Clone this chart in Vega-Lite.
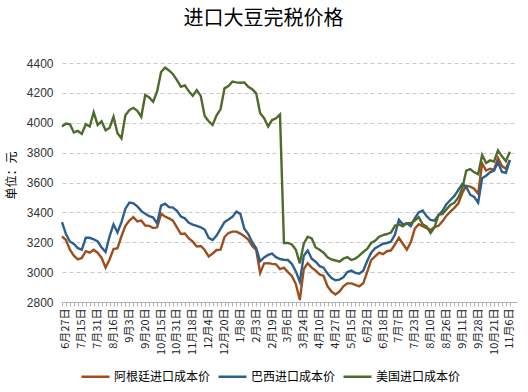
{
 "$schema": "https://vega.github.io/schema/vega-lite/v6.json",
 "width": 455, "height": 239,
 "autosize": {"type": "none"},
 "padding": {"left": 62, "top": 63, "right": 11, "bottom": 90},
 "background": "white",
 "config": {"view": {"stroke": null}, "font": "Noto Sans CJK SC"},
 "title": {"text": "进口大豆完税价格", "fontSize": 20, "font": "Noto Sans CJK SC", "fontWeight": "normal", "color": "#000000", "anchor": "middle", "offset": 28, "dx": -26},
 "data": {"values": [
  {"d":"2013年6月25日","阿根廷":3240,"巴西":3335,"美国":3975},
  {"d":"2013年6月27日","阿根廷":3215,"巴西":3255,"美国":3995},
  {"d":"2013年7月2日","阿根廷":3150,"巴西":3205,"美国":3990},
  {"d":"2013年7月5日","阿根廷":3110,"巴西":3188,"美国":3935},
  {"d":"2013年7月10日","阿根廷":3085,"巴西":3160,"美国":3945},
  {"d":"2013年7月15日","阿根廷":3095,"巴西":3150,"美国":3925},
  {"d":"2013年7月18日","阿根廷":3140,"巴西":3230,"美国":3990},
  {"d":"2013年7月23日","阿根廷":3130,"巴西":3230,"美国":3975},
  {"d":"2013年7月26日","阿根廷":3150,"巴西":3220,"美国":4070},
  {"d":"2013年7月31日","阿根廷":3130,"巴西":3205,"美国":3985},
  {"d":"2013年8月5日","阿根廷":3095,"巴西":3165,"美国":4010},
  {"d":"2013年8月8日","阿根廷":3030,"巴西":3135,"美国":3950},
  {"d":"2013年8月13日","阿根廷":3085,"巴西":3240,"美国":3965},
  {"d":"2013年8月16日","阿根廷":3155,"巴西":3320,"美国":4040},
  {"d":"2013年8月21日","阿根廷":3160,"巴西":3265,"美国":3930},
  {"d":"2013年8月26日","阿根廷":3240,"巴西":3335,"美国":3896},
  {"d":"2013年8月29日","阿根廷":3310,"巴西":3425,"美国":4050},
  {"d":"2013年9月3日","阿根廷":3345,"巴西":3466,"美国":4085},
  {"d":"2013年9月6日","阿根廷":3368,"巴西":3460,"美国":4100},
  {"d":"2013年9月11日","阿根廷":3340,"巴西":3440,"美国":4080},
  {"d":"2013年9月16日","阿根廷":3345,"巴西":3410,"美国":4040},
  {"d":"2013年9月20日","阿根廷":3312,"巴西":3390,"美国":4186},
  {"d":"2013年9月25日","阿根廷":3310,"巴西":3375,"美国":4170},
  {"d":"2013年9月30日","阿根廷":3295,"巴西":3365,"美国":4140},
  {"d":"2013年10月10日","阿根廷":3300,"巴西":3325,"美国":4210},
  {"d":"2013年10月15日","阿根廷":3390,"巴西":3445,"美国":4340},
  {"d":"2013年10月18日","阿根廷":3372,"巴西":3458,"美国":4369},
  {"d":"2013年10月23日","阿根廷":3360,"巴西":3435,"美国":4350},
  {"d":"2013年10月28日","阿根廷":3345,"巴西":3432,"美国":4325},
  {"d":"2013年10月31日","阿根廷":3300,"巴西":3410,"美国":4285},
  {"d":"2013年11月5日","阿根廷":3255,"巴西":3372,"美国":4241},
  {"d":"2013年11月8日","阿根廷":3258,"巴西":3360,"美国":4250},
  {"d":"2013年11月13日","阿根廷":3225,"巴西":3330,"美国":4210},
  {"d":"2013年11月18日","阿根廷":3204,"巴西":3318,"美国":4180},
  {"d":"2013年11月21日","阿根廷":3172,"巴西":3310,"美国":4219},
  {"d":"2013年11月26日","阿根廷":3175,"巴西":3300,"美国":4180},
  {"d":"2013年11月29日","阿根廷":3148,"巴西":3285,"美国":4045},
  {"d":"2013年12月4日","阿根廷":3105,"巴西":3230,"美国":4010},
  {"d":"2013年12月9日","阿根廷":3125,"巴西":3215,"美国":3985},
  {"d":"2013年12月12日","阿根廷":3148,"巴西":3245,"美国":4050},
  {"d":"2013年12月17日","阿根廷":3150,"巴西":3290,"美国":4090},
  {"d":"2013年12月20日","阿根廷":3235,"巴西":3335,"美国":4230},
  {"d":"2013年12月25日","阿根廷":3262,"巴西":3352,"美国":4245},
  {"d":"2013年12月30日","阿根廷":3271,"巴西":3370,"美国":4275},
  {"d":"2014年1月3日","阿根廷":3271,"巴西":3405,"美国":4270},
  {"d":"2014年1月8日","阿根廷":3258,"巴西":3390,"美国":4268},
  {"d":"2014年1月14日","阿根廷":3240,"巴西":3290,"美国":4270},
  {"d":"2014年1月20日","阿根廷":3218,"巴西":3255,"美国":4241},
  {"d":"2014年1月27日","阿根廷":3175,"巴西":3200,"美国":4225},
  {"d":"2014年2月3日","阿根廷":3148,"巴西":3160,"美国":4197},
  {"d":"2014年2月7日","阿根廷":2995,"巴西":3072,"美国":4063},
  {"d":"2014年2月11日","阿根廷":3059,"巴西":3098,"美国":4030},
  {"d":"2014年2月14日","阿根廷":3060,"巴西":3115,"美国":3975},
  {"d":"2014年2月19日","阿根廷":3055,"巴西":3124,"美国":4018},
  {"d":"2014年2月24日","阿根廷":3052,"巴西":3100,"美国":4030},
  {"d":"2014年2月27日","阿根廷":3020,"巴西":3088,"美国":4055},
  {"d":"2014年3月3日","阿根廷":3030,"巴西":3083,"美国":3195},
  {"d":"2014年3月6日","阿根廷":3000,"巴西":3081,"美国":3195},
  {"d":"2014年3月11日","阿根廷":2975,"巴西":3055,"美国":3185},
  {"d":"2014年3月14日","阿根廷":2920,"巴西":3005,"美国":3150},
  {"d":"2014年3月19日","阿根廷":2813,"巴西":2935,"美国":3059},
  {"d":"2014年3月24日","阿根廷":3020,"巴西":3110,"美国":3190},
  {"d":"2014年3月27日","阿根廷":3060,"巴西":3145,"美国":3237},
  {"d":"2014年4月1日","阿根廷":3030,"巴西":3090,"美国":3225},
  {"d":"2014年4月4日","阿根廷":3010,"巴西":3070,"美国":3165},
  {"d":"2014年4月10日","阿根廷":2985,"巴西":3040,"美国":3150},
  {"d":"2014年4月15日","阿根廷":2975,"巴西":3030,"美国":3130},
  {"d":"2014年4月18日","阿根廷":2905,"巴西":2990,"美国":3100},
  {"d":"2014年4月23日","阿根廷":2870,"巴西":2960,"美国":3085},
  {"d":"2014年4月27日","阿根廷":2850,"巴西":2945,"美国":3078},
  {"d":"2014年5月2日","阿根廷":2870,"巴西":2950,"美国":3070},
  {"d":"2014年5月7日","阿根廷":2905,"巴西":2965,"美国":3090},
  {"d":"2014年5月12日","阿根廷":2925,"巴西":3000,"美国":3100},
  {"d":"2014年5月15日","阿根廷":2925,"巴西":3010,"美国":3081},
  {"d":"2014年5月20日","阿根廷":2915,"巴西":2995,"美国":3090},
  {"d":"2014年5月23日","阿根廷":2905,"巴西":2990,"美国":3110},
  {"d":"2014年5月28日","阿根廷":2925,"巴西":3010,"美国":3135},
  {"d":"2014年6月2日","阿根廷":3000,"巴西":3075,"美国":3155},
  {"d":"2014年6月6日","阿根廷":3080,"巴西":3130,"美国":3195},
  {"d":"2014年6月11日","阿根廷":3105,"巴西":3160,"美国":3210},
  {"d":"2014年6月13日","阿根廷":3130,"巴西":3175,"美国":3237},
  {"d":"2014年6月18日","阿根廷":3120,"巴西":3190,"美国":3248},
  {"d":"2014年6月23日","阿根廷":3140,"巴西":3195,"美国":3255},
  {"d":"2014年6月27日","阿根廷":3145,"巴西":3205,"美国":3265},
  {"d":"2014年7月2日","阿根廷":3185,"巴西":3250,"美国":3310},
  {"d":"2014年7月7日","阿根廷":3230,"巴西":3350,"美国":3320},
  {"d":"2014年7月10日","阿根廷":3190,"巴西":3320,"美国":3307},
  {"d":"2014年7月15日","阿根廷":3150,"巴西":3327,"美国":3327},
  {"d":"2014年7月18日","阿根廷":3200,"巴西":3308,"美国":3327},
  {"d":"2014年7月23日","阿根廷":3290,"巴西":3360,"美国":3345},
  {"d":"2014年7月28日","阿根廷":3320,"巴西":3400,"美国":3368},
  {"d":"2014年7月31日","阿根廷":3308,"巴西":3412,"美国":3320},
  {"d":"2014年8月5日","阿根廷":3295,"巴西":3375,"美国":3305},
  {"d":"2014年8月10日","阿根廷":3282,"巴西":3349,"美国":3262},
  {"d":"2014年8月14日","阿根廷":3302,"巴西":3345,"美国":3300},
  {"d":"2014年8月19日","阿根廷":3310,"巴西":3380,"美国":3385},
  {"d":"2014年8月22日","阿根廷":3340,"巴西":3410,"美国":3388},
  {"d":"2014年8月26日","阿根廷":3378,"巴西":3455,"美国":3420},
  {"d":"2014年8月29日","阿根廷":3405,"巴西":3483,"美国":3449},
  {"d":"2014年9月3日","阿根廷":3430,"巴西":3510,"美国":3465},
  {"d":"2014年9月8日","阿根廷":3460,"巴西":3550,"美国":3500},
  {"d":"2014年9月11日","阿根廷":3530,"巴西":3590,"美国":3560},
  {"d":"2014年9月16日","阿根廷":3578,"巴西":3570,"美国":3680},
  {"d":"2014年9月19日","阿根廷":3572,"巴西":3518,"美国":3690},
  {"d":"2014年9月24日","阿根廷":3558,"巴西":3503,"美国":3668},
  {"d":"2014年9月28日","阿根廷":3525,"巴西":3465,"美国":3655},
  {"d":"2014年10月9日","阿根廷":3728,"巴西":3628,"美国":3784},
  {"d":"2014年10月13日","阿根廷":3680,"巴西":3645,"美国":3730},
  {"d":"2014年10月16日","阿根廷":3692,"巴西":3668,"美国":3748},
  {"d":"2014年10月21日","阿根廷":3684,"巴西":3680,"美国":3740},
  {"d":"2014年10月24日","阿根廷":3765,"巴西":3735,"美国":3815},
  {"d":"2014年10月29日","阿根廷":3710,"巴西":3670,"美国":3775},
  {"d":"2014年11月3日","阿根廷":3692,"巴西":3665,"美国":3742},
  {"d":"2014年11月6日","阿根廷":3751,"巴西":3750,"美国":3806}
 ]},
 "transform": [{"fold": ["阿根廷", "巴西", "美国"], "as": ["k", "v"]}],
 "mark": {"type": "line", "strokeWidth": 2.4},
 "encoding": {
  "x": {"field": "d", "type": "ordinal", "sort": null,
   "scale": {"type": "point", "padding": 0.9, "align": 0},
   "axis": {"title": null, "labelAngle": -90, "labelOverlap": false,
    "labelExpr": "indexof(['2013年6月27日','2013年7月15日','2013年7月31日','2013年8月16日','2013年9月3日','2013年9月20日','2013年10月15日','2013年10月31日','2013年11月18日','2013年12月4日','2013年12月20日','2014年1月8日','2014年2月3日','2014年2月19日','2014年3月6日','2014年3月24日','2014年4月10日','2014年4月27日','2014年5月15日','2014年6月2日','2014年6月18日','2014年7月7日','2014年7月23日','2014年8月10日','2014年8月26日','2014年9月11日','2014年9月28日','2014年10月21日','2014年11月6日'], datum.value) >= 0 ? split(datum.value, '年')[1] : ''",
    "labelFont": "Noto Sans CJK SC", "labelFontSize": 11, "labelColor": "#222222", "labelPadding": 2,
    "tickSize": 4, "tickColor": "#b4b4b4", "domainColor": "#b4b4b4", "grid": false}},
  "y": {"field": "v", "type": "quantitative",
   "scale": {"domain": [2800, 4400], "nice": false, "zero": false},
   "axis": {"values": [2800, 3000, 3200, 3400, 3600, 3800, 4000, 4200, 4400], "format": "d",
    "title": "单位：元", "titleFont": "Noto Sans CJK SC", "titleFontSize": 12, "titleFontWeight": "normal", "titleColor": "#000000", "titlePadding": 8, "titleY": 112,
    "grid": true, "gridDash": [4, 3], "gridColor": "#c8c8c8", "domain": false, "ticks": false,
    "labelPadding": 9, "labelFont": "Liberation Sans", "labelFontSize": 12, "labelColor": "#333333"}},
  "color": {"field": "k", "type": "nominal",
   "scale": {"domain": ["阿根廷", "巴西", "美国"], "range": ["#9E4E1C", "#2D5F8E", "#4D6B2A"]},
   "legend": {"orient": "none", "legendX": 18, "legendY": 298, "direction": "horizontal", "title": null,
    "symbolType": "stroke", "symbolSize": 784, "symbolStrokeWidth": 2.5,
    "labelExpr": "datum.value + '进口成本价'", "labelFont": "Noto Sans CJK SC", "labelFontSize": 12, "labelColor": "#000000",
    "columnPadding": 2, "labelOffset": 3}}
 }
}
